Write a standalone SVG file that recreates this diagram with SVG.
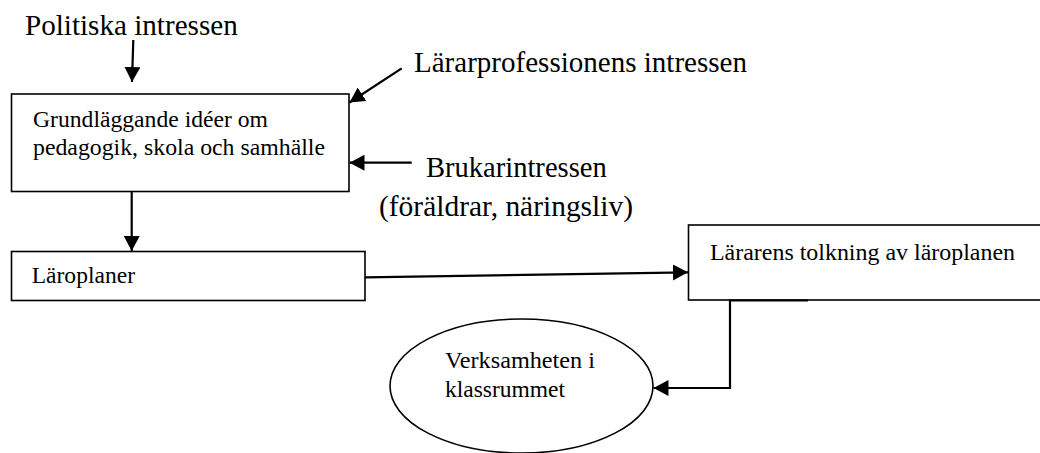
<svg xmlns="http://www.w3.org/2000/svg" width="1040" height="453" viewBox="0 0 1040 453">
  <style>
    .box { fill: #fff; stroke: #000; stroke-width: 1.6; }
    .big { font-size: 29px; }
    .small { font-size: 23.5px; }
    .conn { fill: none; stroke: #000; stroke-width: 2.2; }
  </style>
  <defs>
    <marker id="arr" markerUnits="userSpaceOnUse" markerWidth="16" markerHeight="16" refX="15" refY="8" orient="auto">
      <path d="M0,0 L15,8 L0,16 Z" fill="#000"/>
    </marker>
  </defs>
  <rect width="1040" height="453" fill="#fff"/>

  <g font-family="Liberation Serif, Times New Roman, DejaVu Serif, serif" fill="#000">
  <g id="politiska">
    <text class="big" x="25" y="35" textLength="212.7" lengthAdjust="spacingAndGlyphs">Politiska intressen</text>
  </g>
  <g id="lararprofessionen">
    <text class="big" x="414" y="72" textLength="333" lengthAdjust="spacingAndGlyphs">Lärarprofessionens intressen</text>
  </g>
  <g id="brukar">
    <text class="big" x="426" y="177" textLength="180.7" lengthAdjust="spacingAndGlyphs">Brukarintressen</text>
    <text class="big" x="379" y="216" textLength="254" lengthAdjust="spacingAndGlyphs">(föräldrar, näringsliv)</text>
  </g>
  <g id="grundlaggande">
    <rect class="box" x="11.5" y="94" width="337.5" height="97.5"/>
    <text class="small" x="33" y="127" textLength="235" lengthAdjust="spacingAndGlyphs">Grundläggande idéer om</text>
    <text class="small" x="33" y="155" textLength="292" lengthAdjust="spacingAndGlyphs">pedagogik, skola och samhälle</text>
  </g>
  <g id="laroplaner">
    <rect class="box" x="11.5" y="251.5" width="353.5" height="49"/>
    <text class="small" x="31.7" y="283" textLength="103.3" lengthAdjust="spacingAndGlyphs">Läroplaner</text>
  </g>
  <g id="lararens-tolkning">
    <rect class="box" x="688.5" y="225" width="360" height="75"/>
    <text class="small" x="710" y="260" textLength="305" lengthAdjust="spacingAndGlyphs">Lärarens tolkning av läroplanen</text>
  </g>
  <g id="verksamheten">
    <ellipse class="box" cx="521.5" cy="386" rx="131.5" ry="67"/>
    <text class="small" x="445" y="368" textLength="150" lengthAdjust="spacingAndGlyphs">Verksamheten i</text>
    <text class="small" x="445" y="397" textLength="120" lengthAdjust="spacingAndGlyphs">klassrummet</text>
  </g>
  </g>

  <g id="connectors">
    <line class="conn" x1="133.3" y1="40" x2="132" y2="82" marker-end="url(#arr)"/>
    <line class="conn" x1="401.7" y1="68.3" x2="349.5" y2="102.5" marker-end="url(#arr)"/>
    <line class="conn" x1="411.7" y1="162.7" x2="349.5" y2="162.7" marker-end="url(#arr)"/>
    <line class="conn" x1="131.7" y1="192" x2="131.7" y2="251" marker-end="url(#arr)"/>
    <line class="conn" x1="365" y1="277.3" x2="688" y2="272.3" marker-end="url(#arr)"/>
    <polyline class="conn" points="808,300.5 730,300.5 730,388 653.5,388" marker-end="url(#arr)"/>
  </g>
</svg>
